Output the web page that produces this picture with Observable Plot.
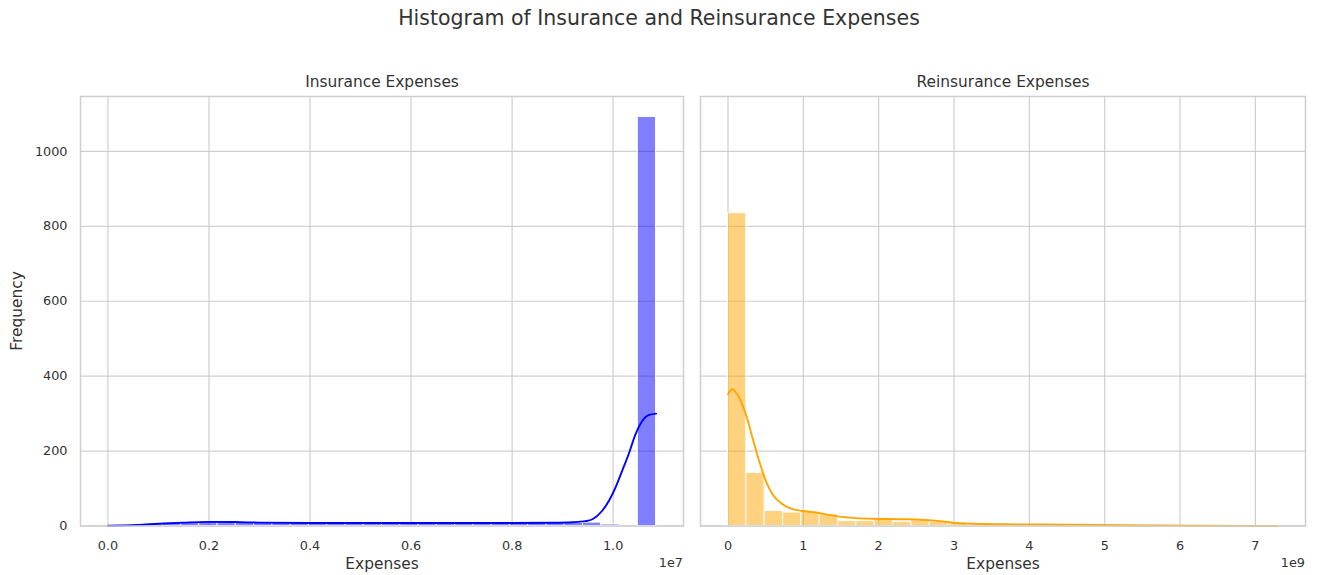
<!DOCTYPE html>
<html>
<head>
<meta charset="utf-8">
<script src="https://cdn.jsdelivr.net/npm/d3@7"></script>
<script src="https://cdn.jsdelivr.net/npm/@observablehq/plot@0.6"></script>
<style>
  body { margin: 0; background: #fff; font-family: "DejaVu Sans", sans-serif; color: #333; }
  #wrap { position: relative; width: 1321px; height: 575px; overflow: hidden; background: #fff; }
  .t { position: absolute; z-index: 2; white-space: nowrap; line-height: 1; transform: translate(-50%, -50%); }
  .r { position: absolute; z-index: 2; white-space: nowrap; line-height: 1; transform: translate(-100%, -50%); }
  .panel { position: absolute; top: 90px; z-index: 1; }
</style>
</head>
<body>
<div id="wrap">
  <div id="left" class="panel" style="left:0px;"></div>
  <div id="right" class="panel" style="left:690px;"></div>
  <div class="t" style="left:659px; top:18px; font-size:20.5px;">Histogram of Insurance and Reinsurance Expenses</div>
  <div class="t" style="left:382px; top:83px; font-size:15.4px;">Insurance Expenses</div>
  <div class="t" style="left:1003px; top:83px; font-size:15.4px;">Reinsurance Expenses</div>
  <div class="t" style="left:382px; top:565px; font-size:15.4px;">Expenses</div>
  <div class="t" style="left:1003px; top:565px; font-size:15.4px;">Expenses</div>
  <div class="t" style="left:18px; top:311px; font-size:15.4px; transform: translate(-50%, -50%) rotate(-90deg);">Frequency</div>
  <div class="r" style="left:683px; top:563px; font-size:12.8px;">1e7</div>
  <div class="r" style="left:1305px; top:563px; font-size:12.8px;">1e9</div>
</div>
<script>
// ---- Insurance expenses: 30 equal bins from 0 to 1.085e7 ----
const insuranceRange = [0, 1.085e7];
const insuranceCounts = [1, 3, 5, 9, 10, 12, 11, 10, 9, 8, 8, 8, 7, 8, 9, 8, 7, 8, 8, 8, 8, 7, 8, 9, 8, 8, 9, 4, 0, 1092];
// KDE curve, already scaled to counts per bin
const insuranceKdeX = [0, 0.03e7, 0.06e7, 0.10e7, 0.15e7, 0.20e7, 0.25e7, 0.30e7, 0.40e7, 0.50e7, 0.60e7, 0.70e7, 0.80e7, 0.88e7, 0.92e7, 0.945e7, 0.959e7, 0.978e7, 0.992e7, 1.005e7, 1.018e7, 1.031e7, 1.044e7, 1.057e7, 1.070e7, 1.085e7];
const insuranceKdeY = [0.5, 1.5, 3, 6, 9, 11, 10.5, 9, 8, 8, 8, 8, 8, 8.5, 10, 13, 18, 40, 68, 104, 148, 193, 244, 279, 296, 300];
const insuranceTicks = [0, 0.2e7, 0.4e7, 0.6e7, 0.8e7, 1.0e7];
const insuranceTickLabels = ["0.0", "0.2", "0.4", "0.6", "0.8", "1.0"];

// ---- Reinsurance expenses: 30 equal bins from 0 to 7.3e9 ----
const reinsuranceRange = [0, 7.3e9];
const reinsuranceCounts = [835, 142, 40, 36, 38, 31, 13, 13, 17, 11, 15, 11, 7, 3, 2, 2, 1, 2, 1, 1, 0, 1, 0, 1, 0, 0, 0, 0, 0, 1];
const reinsuranceKdeX = [0, 0.057e9, 0.147e9, 0.236e9, 0.324e9, 0.413e9, 0.503e9, 0.591e9, 0.724e9, 0.857e9, 0.991e9, 1.169e9, 1.303e9, 1.48e9, 1.70e9, 1.92e9, 2.37e9, 2.81e9, 3.04e9, 3.26e9, 3.70e9, 4.15e9, 4.95e9, 5.6e9, 6.3e9, 7.3e9];
const reinsuranceKdeY = [352, 365, 343, 299, 236, 174, 120, 85, 58, 45, 40, 36, 31, 25, 21, 19.5, 18, 13, 8, 6, 4.5, 4, 2.5, 1.2, 0.5, 0.2];
const reinsuranceTicks = [0, 1e9, 2e9, 3e9, 4e9, 5e9, 6e9, 7e9];
const reinsuranceTickLabels = ["0", "1", "2", "3", "4", "5", "6", "7"];

// Shared frequency axis
const frequencyTicks = [0, 200, 400, 600, 800, 1000];
const frequencyMax = 1146.6;

function binTable(range, counts) {
  const w = (range[1] - range[0]) / counts.length;
  return counts.map((c, i) => ({x1: range[0] + i * w, x2: range[0] + (i + 1) * w, count: c}));
}

function panel({width, marginLeft, marginRight, range, counts, kdeX, kdeY, ticks, tickLabels, color, showY}) {
  const span = range[1] - range[0];
  const kde = kdeX.map((x, i) => ({x, y: kdeY[i]}));
  const xLabels = ticks.map((t, i) => ({x: t, text: tickLabels[i]}));
  const yLabels = frequencyTicks.map(v => ({y: v, text: String(v)}));
  const label = {fontFamily: "DejaVu Sans", fontSize: 12.8, fill: "#333"};
  return Plot.plot({
    width,
    height: 485,
    marginTop: 6,
    marginBottom: 49.5,
    marginLeft,
    marginRight,
    style: {background: "white"},
    x: {domain: [range[0] - 0.05 * span, range[1] + 0.05 * span], axis: null},
    y: {domain: [0, frequencyMax], axis: null},
    marks: [
      Plot.gridX(ticks, {stroke: "#cfcfcf", strokeOpacity: 1, strokeWidth: 1.2}),
      Plot.gridY(frequencyTicks, {stroke: "#cfcfcf", strokeOpacity: 1, strokeWidth: 1.2}),
      Plot.rectY(binTable(range, counts), {x1: "x1", x2: "x2", y: "count", fill: color, fillOpacity: 0.5, stroke: "white", strokeWidth: 1}),
      Plot.line(kde, {x: "x", y: "y", stroke: color, strokeWidth: 1.9, curve: "monotone-x"}),
      Plot.frame({stroke: "#cfcfcf", strokeWidth: 1.5}),
      // tick labels below the frame
      Plot.text(xLabels, {x: "x", text: "text", frameAnchor: "bottom", dy: 19.5, lineAnchor: "middle", ...label}),
      // tick labels left of the frame (shared axis, left panel only)
      showY ? Plot.text(yLabels, {y: "y", text: "text", frameAnchor: "left", dx: -13, textAnchor: "end", lineAnchor: "middle", ...label}) : null
    ]
  });
}

document.getElementById("left").append(panel({
  width: 690, marginLeft: 80, marginRight: 7,
  range: insuranceRange, counts: insuranceCounts,
  kdeX: insuranceKdeX, kdeY: insuranceKdeY,
  ticks: insuranceTicks, tickLabels: insuranceTickLabels,
  color: "blue", showY: true
}));

document.getElementById("right").append(panel({
  width: 631, marginLeft: 10, marginRight: 16,
  range: reinsuranceRange, counts: reinsuranceCounts,
  kdeX: reinsuranceKdeX, kdeY: reinsuranceKdeY,
  ticks: reinsuranceTicks, tickLabels: reinsuranceTickLabels,
  color: "orange", showY: false
}));
</script>
</body>
</html>
